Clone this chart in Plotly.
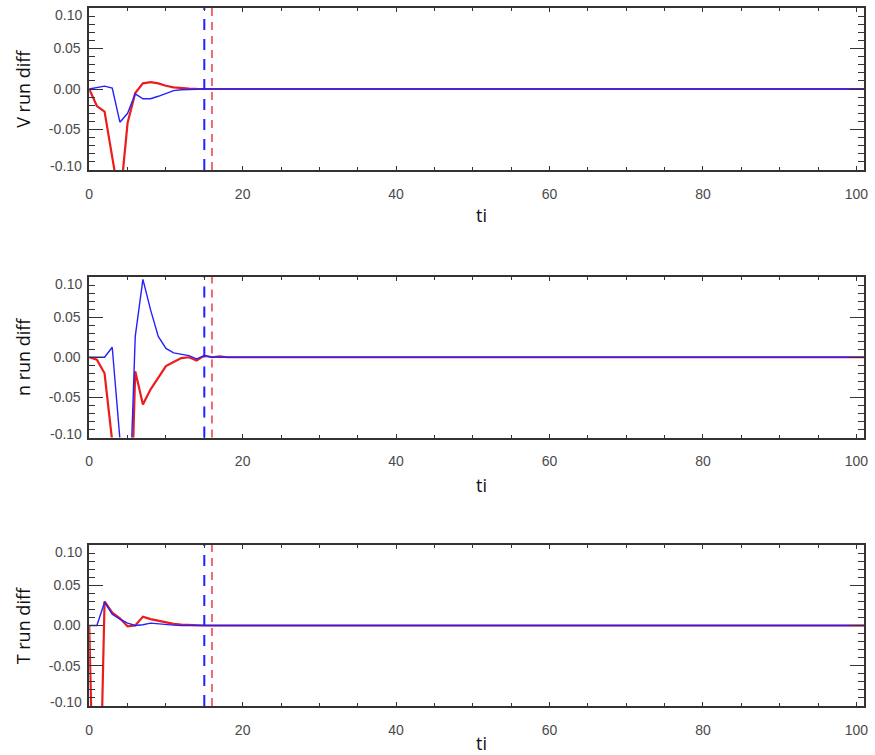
import plotly.graph_objects as go

# ---------------- data ----------------
ti = list(range(0, 102))
n_tail = 102 - 21

V_red = [0.0, -0.021, -0.028, -0.09, -0.14, -0.042, -0.005, 0.007, 0.0085, 0.007,
         0.004, 0.002, 0.001, 0.0005, 0.0002, 0.0, 0.0, 0.0, 0.0, 0.0, 0.0] + [0.0] * n_tail
V_blue = [0.0, 0.002, 0.0035, 0.001, -0.041, -0.030, -0.006, -0.012, -0.012, -0.009,
          -0.005, -0.002, -0.001, -0.0005, 0.0, 0.0, 0.0, 0.0, 0.0, 0.0, 0.0] + [0.0] * n_tail

n_red = [0.0, -0.003, -0.02, -0.105, -0.30, -0.35, -0.0175, -0.059, -0.040, -0.025,
         -0.011, -0.006, -0.001, 0.0, -0.004, 0.002, 0.0, 0.001, 0.0, 0.0, 0.0] + [0.0] * n_tail
n_blue = [0.0, 0.0, 0.0, 0.0125, -0.102, -0.254, 0.026, 0.097, 0.059, 0.026,
          0.011, 0.0055, 0.004, 0.002, -0.002, 0.002, 0.0, 0.0, 0.0, 0.0, 0.0] + [0.0] * n_tail

T_red = [0.0, -0.4, 0.030, 0.016, 0.009, -0.001, 0.0, 0.011, 0.008, 0.006,
         0.004, 0.002, 0.001, 0.0005, 0.0, 0.0, 0.0, 0.0, 0.0, 0.0, 0.0] + [0.0] * n_tail
T_blue = [0.0, 0.0, 0.029, 0.014, 0.008, 0.003, 0.0, 0.001, 0.003, 0.002,
          0.001, 0.0005, 0.0, 0.0, 0.0, 0.0, 0.0, 0.0, 0.0, 0.0, 0.0] + [0.0] * n_tail

panel_titles = ["V run diff", "n run diff", "T run diff"]
x_title = "ti"
blue_mark_t = 15
red_mark_t = 16

y_tickvals = [-0.10, -0.05, 0.0, 0.05, 0.10]
y_ticktext = ["", "-0.05", "0.00", "0.05", ""]
x_tickvals = [0, 20, 40, 60, 80, 100]
x_ticktext = ["0", "20", "40", "60", "80", "100"]

RED = "#ec1c1c"
BLUE = "#2222ff"
FRAME = "#333333"
LABEL = "#4a4a4a"

# ---------------- layout geometry (pixels) ----------------
W, H = 875, 755
x_left, x_right = 86, 868
panels_px = [(8, 170), (277, 437.5), (545, 706)]   # (top, bottom)
x_title_gap = [45, 47, 37]

fig = go.Figure()

series = [(V_red, V_blue), (n_red, n_blue), (T_red, T_blue)]
annotations = []
shapes = []

for i, ((red, blue), (top, bot)) in enumerate(zip(series, panels_px)):
    k = "" if i == 0 else str(i + 1)
    xa, ya = "x" + k, "y" + k
    fig.add_trace(go.Scatter(x=ti, y=red, mode="lines", line=dict(color=RED, width=2.2),
                             xaxis=xa, yaxis=ya, showlegend=False))
    fig.add_trace(go.Scatter(x=ti, y=blue, mode="lines", line=dict(color=BLUE, width=1.4),
                             xaxis=xa, yaxis=ya, showlegend=False))

    fig.layout["xaxis" + k] = dict(
        domain=[x_left / W, x_right / W], range=[0, 101], anchor=ya,
        showline=True, linecolor=FRAME, linewidth=1.5, mirror="ticks",
        ticks="inside", ticklen=4, tickcolor=FRAME, tickwidth=1,
        tickvals=x_tickvals, ticktext=x_ticktext,
        minor=dict(dtick=5, tick0=0, ticks="inside", ticklen=3, tickcolor=FRAME),
        showgrid=False, zeroline=False, ticklabelstandoff=10,
        tickfont=dict(family="Liberation Sans", size=14, color=LABEL),
    )
    fig.layout["yaxis" + k] = dict(
        domain=[1 - bot / H, 1 - top / H], range=[-0.1, 0.1], anchor=xa,
        showline=True, linecolor=FRAME, linewidth=1.5, mirror="ticks",
        ticks="inside", ticklen=14, tickcolor=FRAME, tickwidth=1,
        tickvals=y_tickvals, ticktext=y_ticktext,
        minor=dict(dtick=0.01, tick0=0, ticks="inside", ticklen=6, tickcolor=FRAME),
        showgrid=False, zeroline=False, ticklabelstandoff=4,
        tickfont=dict(family="Liberation Sans", size=14, color=LABEL),
    )

    # end labels of the y axis, pulled inside like the original
    for val, txt, ys in [(0.10, "0.10", -7), (-0.10, "-0.10", 4)]:
        annotations.append(dict(x=0, y=val, xref=xa, yref=ya, text=txt, showarrow=False,
                                xanchor="right", yanchor="middle", xshift=-5, yshift=ys,
                                font=dict(family="Liberation Sans", size=14, color=LABEL)))
    # y title
    annotations.append(dict(x=19 / W, y=1 - (top + bot) / 2 / H, xref="paper", yref="paper",
                            text=panel_titles[i], showarrow=False, textangle=-90,
                            xanchor="center", yanchor="middle",
                            font=dict(family="Open Sans", size=18, color="#111111")))
    # x title
    annotations.append(dict(x=(x_left + 396) / W, y=1 - (bot + x_title_gap[i]) / H,
                            xref="paper", yref="paper",
                            text=x_title, showarrow=False, xanchor="center", yanchor="middle",
                            font=dict(family="Open Sans", size=18, color="#111111")))

    # vertical dashed markers
    shapes.append(dict(type="line", xref=xa, yref=ya + " domain", x0=blue_mark_t, x1=blue_mark_t,
                       y0=0, y1=1, line=dict(color=BLUE, width=2, dash="11px,9px")))
    shapes.append(dict(type="line", xref=xa, yref=ya + " domain", x0=red_mark_t, x1=red_mark_t,
                       y0=0, y1=1, line=dict(color=RED, width=1.3, dash="8px,6px")))

fig.update_layout(
    width=W, height=H, margin=dict(l=0, r=0, t=0, b=0),
    paper_bgcolor="white", plot_bgcolor="white",
    annotations=annotations, shapes=shapes, showlegend=False,
)

fig.write_html("out.html", config={"displayModeBar": False})
